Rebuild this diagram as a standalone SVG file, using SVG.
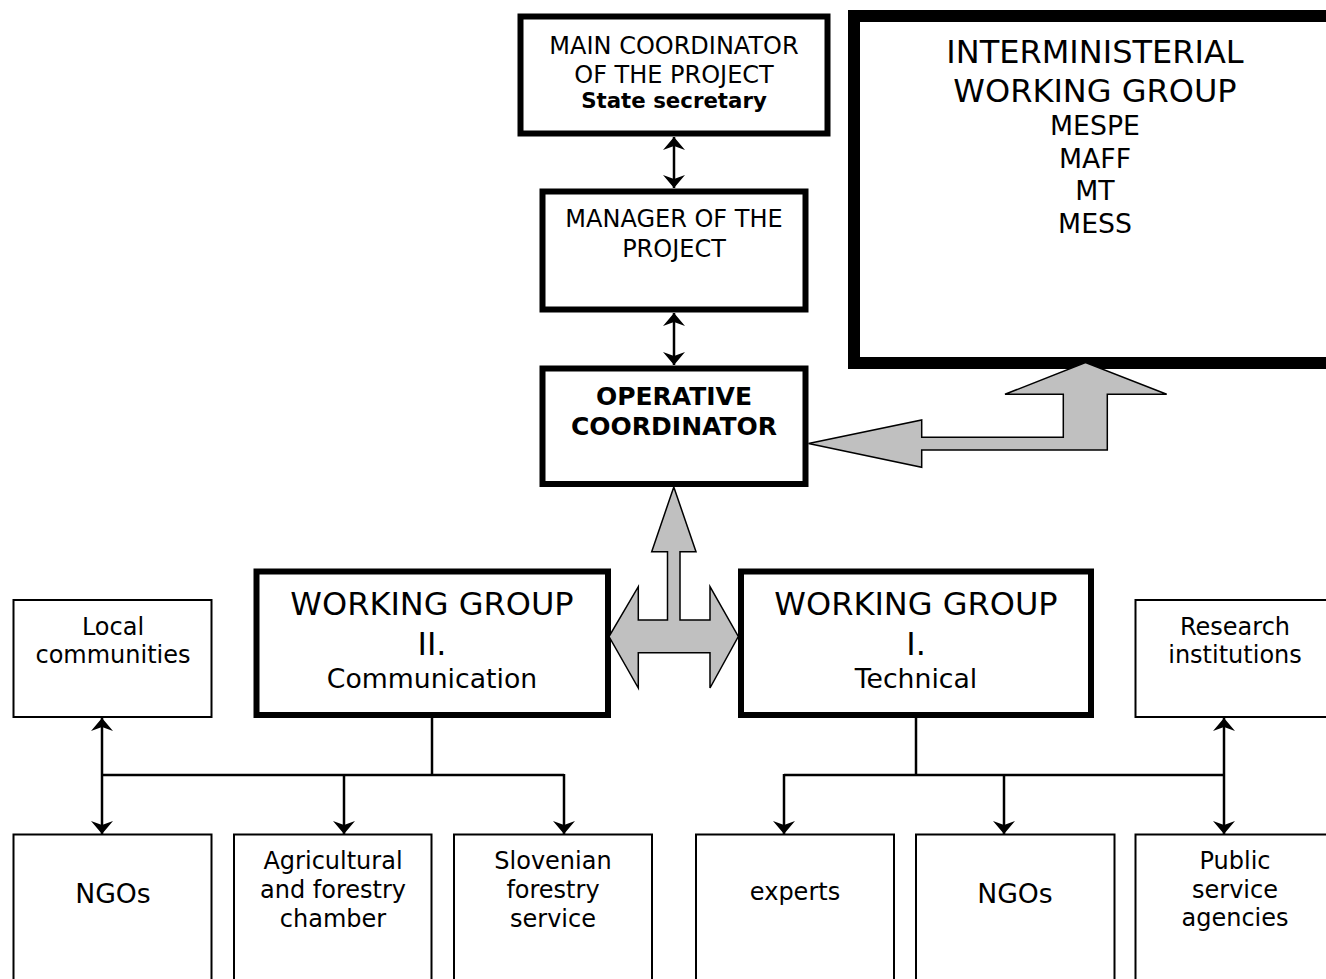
<svg xmlns="http://www.w3.org/2000/svg" width="1326" height="979" viewBox="0 0 1326 979">
<style>
text{font-family:"DejaVu Sans",Verdana,sans-serif;fill:#000;text-anchor:middle}
.s24{font-size:24px}
.s26{font-size:26.7px}
.s32{font-size:32px}
.b{font-weight:bold}
.thick{fill:#fff;stroke:#000;stroke-width:6}
.thin{fill:#fff;stroke:#000;stroke-width:2}
.huge{fill:#fff;stroke:#000;stroke-width:12}
.big{fill:#c0c0c0;stroke:#000;stroke-width:1.5;stroke-linejoin:miter}
.conn{fill:none;stroke:#000;stroke-width:2.5}
</style>
<defs>
<marker id="ah" markerUnits="userSpaceOnUse" markerWidth="30" markerHeight="30" viewBox="-15 -15 30 30" refX="0" refY="0" orient="auto-start-reverse">
<path d="M0,0 L-13,-11 L-9,0 L-13,11 Z" fill="#000"/>
</marker>
</defs>
<rect width="1326" height="979" fill="#fff"/>

<g id="interministerial">
<rect class="huge" x="854" y="16" width="490" height="347"/>
<text class="s32" x="1095" y="63">INTERMINISTERIAL</text>
<text class="s32" x="1095" y="101.5">WORKING GROUP</text>
<text class="s26" x="1095" y="135">MESPE</text>
<text class="s26" x="1095" y="167.5">MAFF</text>
<text class="s26" x="1095" y="200">MT</text>
<text class="s26" x="1095" y="232.5">MESS</text>
</g>

<g id="main-coordinator">
<rect class="thick" x="520.5" y="16.5" width="307" height="117"/>
<text class="s24" x="674" y="54">MAIN COORDINATOR</text>
<text class="s24" x="674" y="82.5">OF THE PROJECT</text>
<text class="b" style="font-size:21.3px" x="674" y="108">State secretary</text>
</g>

<g id="manager">
<rect class="thick" x="542.5" y="191.5" width="263" height="118"/>
<text class="s24" x="674" y="227">MANAGER OF THE</text>
<text class="s24" x="674" y="256.5">PROJECT</text>
</g>

<g id="operative">
<rect class="thick" x="542.5" y="368.5" width="263" height="115.5"/>
<text class="b" style="font-size:25px" x="674" y="405">OPERATIVE</text>
<text class="b" style="font-size:25px" x="674" y="435">COORDINATOR</text>
</g>

<g id="wg2">
<rect class="thick" x="256.5" y="571.5" width="351.5" height="143.5"/>
<text class="s32" x="432" y="615">WORKING GROUP</text>
<text class="s32" x="432" y="655">II.</text>
<text class="s26" x="432" y="688">Communication</text>
</g>

<g id="wg1">
<rect class="thick" x="741" y="571.5" width="350" height="143.5"/>
<text class="s32" x="916" y="615">WORKING GROUP</text>
<text class="s32" x="916" y="655">I.</text>
<text class="s26" x="916" y="688">Technical</text>
</g>

<g id="local-communities">
<rect class="thin" x="13.5" y="600" width="198" height="117"/>
<text class="s24" x="113" y="635">Local</text>
<text class="s24" x="113" y="663">communities</text>
</g>

<g id="research">
<rect class="thin" x="1135.5" y="600" width="198" height="117"/>
<text class="s24" x="1235" y="635">Research</text>
<text class="s24" x="1235" y="663">institutions</text>
</g>

<g id="ngos-left">
<rect class="thin" x="13.5" y="834.5" width="198" height="160"/>
<text class="s26" x="113" y="903">NGOs</text>
</g>

<g id="agricultural">
<rect class="thin" x="234" y="834.5" width="197.5" height="160"/>
<text class="s24" x="333" y="868.5">Agricultural</text>
<text class="s24" x="333" y="897.5">and forestry</text>
<text class="s24" x="333" y="926.5">chamber</text>
</g>

<g id="slovenian">
<rect class="thin" x="454" y="834.5" width="198" height="160"/>
<text class="s24" x="553" y="868.5">Slovenian</text>
<text class="s24" x="553" y="897.5">forestry</text>
<text class="s24" x="553" y="926.5">service</text>
</g>

<g id="experts">
<rect class="thin" x="696" y="834.5" width="198" height="160"/>
<text class="s24" x="795" y="900">experts</text>
</g>

<g id="ngos-right">
<rect class="thin" x="916" y="834.5" width="198.5" height="160"/>
<text class="s26" x="1015" y="903">NGOs</text>
</g>

<g id="public">
<rect class="thin" x="1135.5" y="834.5" width="198" height="160"/>
<text class="s24" x="1235" y="868.5">Public</text>
<text class="s24" x="1235" y="897.5">service</text>
<text class="s24" x="1235" y="925.5">agencies</text>
</g>

<g id="connectors">
<line class="conn" x1="674" y1="137" x2="674" y2="188" marker-start="url(#ah)" marker-end="url(#ah)"/>
<line class="conn" x1="674" y1="313" x2="674" y2="365" marker-start="url(#ah)" marker-end="url(#ah)"/>
<polygon class="big" points="808.5,443.5 921.7,420 921.7,437.3 1063.3,437.3 1063.3,394.3 1005,394.3 1085.5,362.5 1166.7,394.3 1107.3,394.3 1107.3,450 921.7,450 921.7,467.3"/>
<polygon class="big" points="673.8,487 696,551.7 680,551.7 680,620 710,620 710,586.7 738.3,636.5 710,688 710,652.7 638.3,652.7 638.3,688 609,636.5 638.3,586.7 638.3,620 667.5,620 667.5,551.7 651.7,551.7"/>
<polyline class="conn" points="432,718 432,775"/>
<line class="conn" x1="102" y1="775" x2="564" y2="775"/>
<line class="conn" x1="102" y1="718" x2="102" y2="834" marker-start="url(#ah)" marker-end="url(#ah)"/>
<line class="conn" x1="344" y1="775" x2="344" y2="834" marker-end="url(#ah)"/>
<line class="conn" x1="564" y1="774" x2="564" y2="834" marker-end="url(#ah)"/>
<polyline class="conn" points="916,718 916,775"/>
<line class="conn" x1="784" y1="775" x2="1224" y2="775"/>
<line class="conn" x1="784" y1="774" x2="784" y2="834" marker-end="url(#ah)"/>
<line class="conn" x1="1004" y1="775" x2="1004" y2="834" marker-end="url(#ah)"/>
<line class="conn" x1="1224" y1="718" x2="1224" y2="834" marker-start="url(#ah)" marker-end="url(#ah)"/>
</g>
</svg>
